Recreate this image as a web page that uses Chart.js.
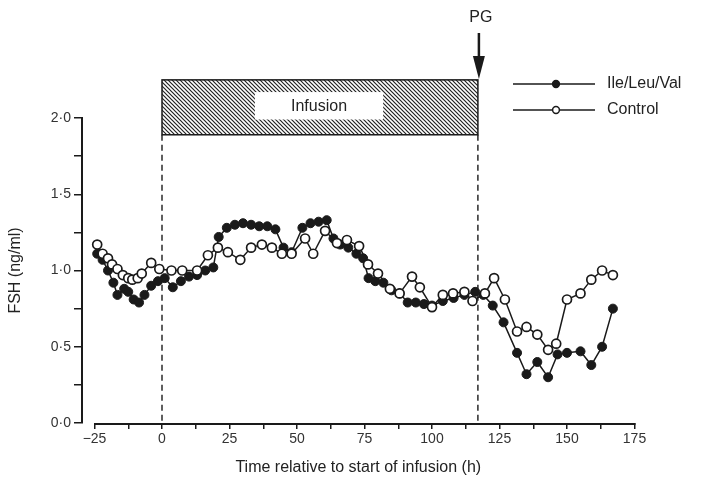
<!DOCTYPE html>
<html>
<head>
<meta charset="utf-8">
<script src="https://cdn.jsdelivr.net/npm/chart.js@4.4.0/dist/chart.umd.min.js"></script>
<style>
  body { margin: 0; background: #fff; }
  #wrap { width: 705px; height: 481px; }
</style>
</head>
<body>
<div id="wrap"><canvas id="fshChart" width="705" height="481"></canvas></div>
<script>
// values (hours relative to start of infusion, FSH ng/ml)
const ileHours = [-24, -22, -20, -18, -16.5, -14, -12.5, -10.5, -8.5, -6.5, -4, -1.5, 1, 4, 7, 10, 13, 16, 19,
  21, 24, 27, 30, 33, 36, 39, 42, 45, 48, 52, 55, 58, 61, 63.5, 66, 69, 72, 74.5, 76.5, 79, 82, 85, 88,
  91, 94, 97, 100, 104, 108, 112, 116, 119, 122.5, 126.5, 131.5, 135, 139, 143, 146.5, 150, 155, 159, 163, 167];
const ileFsh = [1.11, 1.07, 1.0, 0.92, 0.84, 0.88, 0.86, 0.81, 0.79, 0.84, 0.9, 0.93, 0.95, 0.89, 0.93, 0.96, 0.97, 1.0, 1.02,
  1.22, 1.28, 1.3, 1.31, 1.3, 1.29, 1.29, 1.27, 1.15, 1.12, 1.28, 1.31, 1.32, 1.33, 1.21, 1.17, 1.15, 1.11, 1.08, 0.95, 0.93, 0.92, 0.87, 0.85,
  0.79, 0.79, 0.78, 0.77, 0.8, 0.82, 0.84, 0.86, 0.84, 0.77, 0.66, 0.46, 0.32, 0.4, 0.3, 0.45, 0.46, 0.47, 0.38, 0.5, 0.75];

const ctrlHours = [-24, -22, -20, -18.5, -16.5, -14.5, -12.5, -11, -9, -7.5, -4, -1, 3.5, 7.5, 13, 17, 20.7, 24.4, 29,
  33, 37, 40.7, 44.4, 48, 53, 56, 60.4, 64.8, 68.5, 73, 76.3, 80, 84.4, 88, 92.6, 95.5, 100, 104, 107.8, 112, 115, 119.6,
  123, 127, 131.5, 135, 139, 143, 146, 150, 155, 159, 163, 167];
const ctrlFsh = [1.17, 1.11, 1.08, 1.04, 1.01, 0.97, 0.95, 0.94, 0.95, 0.98, 1.05, 1.01, 1.0, 1.0, 1.0, 1.1, 1.15, 1.12, 1.07,
  1.15, 1.17, 1.15, 1.11, 1.11, 1.21, 1.11, 1.26, 1.18, 1.2, 1.16, 1.04, 0.98, 0.88, 0.85, 0.96, 0.89, 0.76, 0.84, 0.85, 0.86, 0.8, 0.85,
  0.95, 0.81, 0.6, 0.63, 0.58, 0.48, 0.52, 0.81, 0.85, 0.94, 1.0, 0.97];

const xTicks = [-25, -12.5, 0, 12.5, 25, 37.5, 50, 62.5, 75, 87.5, 100, 112.5, 125, 137.5, 150, 162.5, 175];
const xTickLabels = ['\u221225', '', '0', '', '25', '', '50', '', '75', '', '100', '', '125', '', '150', '', '175'];
const yTickLabels = ['0\u00b70', '', '0\u00b75', '', '1\u00b70', '', '1\u00b75', '', '2\u00b70'];

const infusionStart = 0;
const pgTime = 117;
const infusionTop = 2.25;
const infusionBottom = 1.89;

const ink = '#1a1a1a';
const font = 'Liberation Sans, Arial, sans-serif';

function makeHatch(target) {
  const c = document.createElement('canvas');
  c.width = 4; c.height = 4;
  const g = c.getContext('2d');
  g.fillStyle = '#fff';
  g.fillRect(0, 0, 4, 4);
  g.strokeStyle = '#222';
  g.lineWidth = 1.2;
  g.beginPath();
  g.moveTo(-1, -1); g.lineTo(5, 5);
  g.moveTo(-1, 3); g.lineTo(1, 5);
  g.moveTo(3, -1); g.lineTo(5, 1);
  g.stroke();
  return target.createPattern(c, 'repeat');
}

const extras = {
  id: 'extras',
  beforeDatasetsDraw(chart) {
    const { ctx, scales: { x, y } } = chart;
    ctx.save();
    ctx.strokeStyle = ink;
    ctx.lineWidth = 1.4;
    ctx.setLineDash([6, 4]);
    [infusionStart, pgTime].forEach(h => {
      const px = x.getPixelForValue(h);
      ctx.beginPath();
      ctx.moveTo(px, y.getPixelForValue(infusionBottom));
      ctx.lineTo(px, y.getPixelForValue(0));
      ctx.stroke();
    });
    ctx.restore();
  },
  afterDraw(chart) {
    const { ctx, scales: { x, y } } = chart;
    ctx.save();

    // x axis line, detached from the y axis
    ctx.strokeStyle = ink;
    ctx.lineWidth = 2;
    ctx.beginPath();
    ctx.moveTo(x.getPixelForValue(-25), y.getPixelForValue(0) + 1);
    ctx.lineTo(x.getPixelForValue(175) + 1, y.getPixelForValue(0) + 1);
    ctx.stroke();

    // infusion bar
    const x0 = x.getPixelForValue(infusionStart);
    const x1 = x.getPixelForValue(pgTime);
    const y0 = y.getPixelForValue(infusionTop);
    const y1 = y.getPixelForValue(infusionBottom);
    ctx.fillStyle = makeHatch(ctx);
    ctx.fillRect(x0, y0, x1 - x0, y1 - y0);
    ctx.lineWidth = 1.5;
    ctx.strokeRect(x0, y0, x1 - x0, y1 - y0);
    const bx0 = x.getPixelForValue(34.4), bx1 = x.getPixelForValue(81.9);
    const by0 = y.getPixelForValue(2.17), by1 = y.getPixelForValue(1.99);
    ctx.fillStyle = '#fff';
    ctx.fillRect(bx0, by0, bx1 - bx0, by1 - by0);
    ctx.fillStyle = '#222';
    ctx.font = '16px ' + font;
    ctx.textAlign = 'center';
    ctx.textBaseline = 'middle';
    ctx.fillText('Infusion', (bx0 + bx1) / 2, (by0 + by1) / 2 + 1);

    // PG arrow
    const ax = x.getPixelForValue(pgTime) + 1;
    ctx.strokeStyle = ink;
    ctx.lineWidth = 2.5;
    ctx.beginPath();
    ctx.moveTo(ax, 33);
    ctx.lineTo(ax, 60);
    ctx.stroke();
    ctx.fillStyle = ink;
    ctx.beginPath();
    ctx.moveTo(ax - 6, 56);
    ctx.lineTo(ax + 6, 56);
    ctx.lineTo(ax, y0 - 1);
    ctx.closePath();
    ctx.fill();
    ctx.font = '16px ' + font;
    ctx.fillStyle = '#222';
    ctx.fillText('PG', ax + 2, 18);

    // legend
    const rows = [
      { label: 'Ile/Leu/Val', fill: ink, yy: 84 },
      { label: 'Control', fill: '#fff', yy: 110 }
    ];
    rows.forEach(r => {
      ctx.strokeStyle = ink;
      ctx.lineWidth = 1.5;
      ctx.beginPath();
      ctx.moveTo(513, r.yy);
      ctx.lineTo(595, r.yy);
      ctx.stroke();
      ctx.beginPath();
      ctx.arc(556, r.yy, 3.4, 0, Math.PI * 2);
      ctx.fillStyle = r.fill;
      ctx.fill();
      ctx.stroke();
      ctx.fillStyle = '#222';
      ctx.font = '16px ' + font;
      ctx.textAlign = 'left';
      ctx.fillText(r.label, 607, r.yy);
    });
    ctx.restore();
  }
};

const ctx = document.getElementById('fshChart').getContext('2d');
const fshChart = new Chart(ctx, {
  type: 'line',
  data: {
    datasets: [
      {
        label: 'Control',
        data: ctrlHours.map((h, i) => ({ x: h, y: ctrlFsh[i] })),
        borderColor: ink,
        borderWidth: 1.5,
        pointRadius: 4.5,
        pointBackgroundColor: '#fff',
        pointBorderColor: ink,
        pointBorderWidth: 1.7,
        tension: 0
      },
      {
        label: 'Ile/Leu/Val',
        data: ileHours.map((h, i) => ({ x: h, y: ileFsh[i] })),
        borderColor: ink,
        borderWidth: 1.5,
        pointRadius: 4.5,
        pointBackgroundColor: ink,
        pointBorderColor: ink,
        pointBorderWidth: 1,
        tension: 0
      }
    ]
  },
  options: {
    responsive: false,
    animation: false,
    layout: { padding: { left: 0, right: 70.5, top: 118, bottom: 0 } },
    plugins: { legend: { display: false }, tooltip: { enabled: false } },
    scales: {
      x: {
        type: 'linear',
        min: -29.63,
        max: 175,
        afterBuildTicks: s => { s.ticks = xTicks.map(v => ({ value: v })); },
        afterFit: s => { s.height = 58; },
        grid: { drawOnChartArea: false, color: ink, lineWidth: 1.5, tickLength: 6 },
        border: { display: false },
        ticks: {
          color: '#333',
          font: { family: font, size: 14 },
          padding: 2,
          maxRotation: 0,
          autoSkip: false,
          callback: (v, i) => xTickLabels[i]
        },
        title: {
          display: true,
          text: 'Time relative to start of infusion (h)',
          color: '#222',
          font: { family: font, size: 16 },
          padding: { top: 0, bottom: 4 }
        }
      },
      y: {
        min: 0,
        max: 2,
        afterBuildTicks: s => { s.ticks = yTickLabels.map((t, i) => ({ value: i * 0.25 })); },
        afterFit: s => { s.width = 82; },
        grid: { drawOnChartArea: false, color: ink, lineWidth: 1.5, tickLength: 8 },
        border: { display: true, color: ink, width: 2 },
        ticks: {
          color: '#333',
          font: { family: font, size: 14 },
          padding: 3,
          autoSkip: false,
          callback: (v, i) => yTickLabels[i]
        },
        title: {
          display: true,
          text: 'FSH (ng/ml)',
          color: '#222',
          font: { family: font, size: 16 },
          padding: { top: 6, bottom: 0 }
        }
      }
    }
  },
  plugins: [extras]
});
</script>
</body>
</html>
